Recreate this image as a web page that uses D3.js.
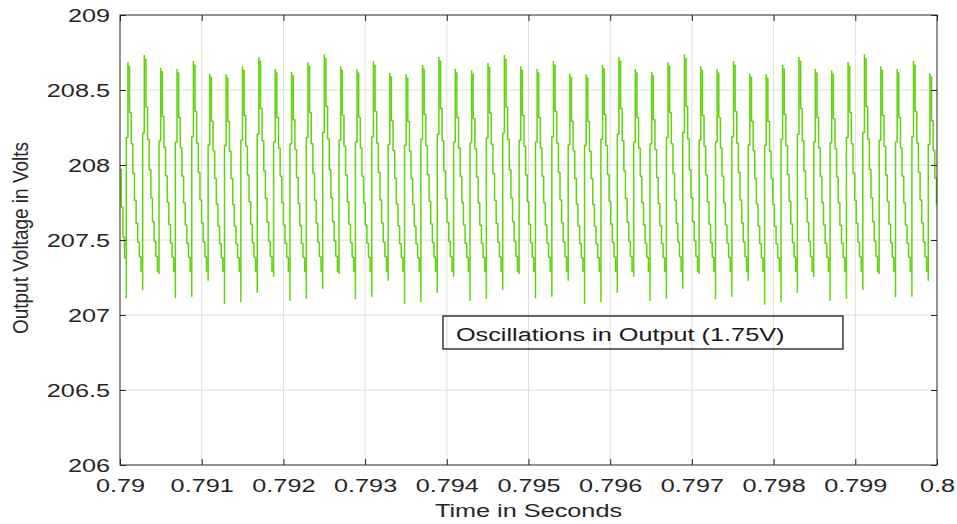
<!DOCTYPE html>
<html>
<head>
<meta charset="utf-8">
<script src="https://cdn.jsdelivr.net/npm/d3@7"></script>
<style>
  body { margin: 0; background: #fff; }
  svg { display: block; }
</style>
</head>
<body>
<div id="chart"></div>
<script>
// tick values and labels
var xTicks = [0.79, 0.791, 0.792, 0.793, 0.794, 0.795, 0.796, 0.797, 0.798, 0.799, 0.8];
var xTickLabels = ["0.79", "0.791", "0.792", "0.793", "0.794", "0.795", "0.796", "0.797", "0.798", "0.799", "0.8"];
var yTicks = [206, 206.5, 207, 207.5, 208, 208.5, 209];
var yTickLabels = ["206", "206.5", "207", "207.5", "208", "208.5", "209"];

// ripple: one peak and one trough per cycle (50 cycles)
var peakVolts = [
  208.685, 208.733, 208.649, 208.640, 208.693, 208.609, 208.605, 208.658, 208.720, 208.640,
  208.622, 208.685, 208.738, 208.658, 208.640, 208.693, 208.613, 208.605, 208.667, 208.720,
  208.640, 208.631, 208.680, 208.733, 208.658, 208.640, 208.693, 208.609, 208.605, 208.667,
  208.720, 208.640, 208.622, 208.685, 208.738, 208.658, 208.640, 208.693, 208.609, 208.605,
  208.667, 208.720, 208.640, 208.631, 208.685, 208.738, 208.658, 208.640, 208.693, 208.613];
var troughVolts = [
  207.111, 207.167, 207.273, 207.111, 207.122, 207.229, 207.073, 207.087, 207.149, 207.255,
  207.095, 207.109, 207.175, 207.273, 207.105, 207.122, 207.229, 207.073, 207.087, 207.149,
  207.255, 207.095, 207.109, 207.167, 207.273, 207.111, 207.122, 207.229, 207.073, 207.087,
  207.149, 207.255, 207.095, 207.109, 207.175, 207.273, 207.105, 207.122, 207.229, 207.069,
  207.087, 207.149, 207.255, 207.095, 207.109, 207.167, 207.273, 207.118, 207.122, 207.229];

// staircase inside one cycle (10 held samples), as a fraction between bottom hold and peak
var stepShape = [0.64, 0.98, 0.76, 0.61, 0.47, 0.34, 0.23, 0.14, 0.07, 0.0];
var bottomHold = 207.29;
// first trough time and ripple period
var firstTrough = 0.790077;
var ripplePeriod = 0.00020033;
// tail of the previous cycle seen at the left edge [time, volts]
var leadIn = [[0.79, 207.97], [0.790015, 207.97], [0.790015, 207.72], [0.790035, 207.72],
              [0.790035, 207.52], [0.790055, 207.52], [0.790055, 207.38]];

var svgWidth = 957;
var svgHeight = 524;
var margin = {top: 15, right: 20, bottom: 59, left: 120};
var width = svgWidth - margin.left - margin.right;
var height = svgHeight - margin.top - margin.bottom;

var axisColor = "#262626";
var fontFamily = "'Liberation Sans', Arial, Helvetica, sans-serif";
var stretch = 1.33;

var svg = d3.select("#chart")
  .append("svg")
  .attr("width", svgWidth)
  .attr("height", svgHeight);

var chartGroup = svg.append("g")
  .attr("transform", `translate(${margin.left}, ${margin.top})`);

var xScale = d3.scaleLinear().domain([0.79, 0.8]).range([0, width]);
var yScale = d3.scaleLinear().domain([206, 209]).range([height, 0]);

// grid
chartGroup.append("g").selectAll("line")
  .data(xTicks.slice(1, -1))
  .enter()
  .append("line")
  .attr("x1", d => xScale(d)).attr("x2", d => xScale(d))
  .attr("y1", 0).attr("y2", height)
  .attr("stroke", "#dedede");

chartGroup.append("g").selectAll("line")
  .data(yTicks.slice(1, -1))
  .enter()
  .append("line")
  .attr("x1", 0).attr("x2", width)
  .attr("y1", d => yScale(d)).attr("y2", d => yScale(d))
  .attr("stroke", "#dedede");

// build the held-sample trace
var points = leadIn.slice();
peakVolts.forEach(function(p, i) {
  var t0 = firstTrough + i * ripplePeriod;
  var dt = ripplePeriod / stepShape.length;
  var levels = stepShape.map(f => bottomHold + f * (p - bottomHold));
  var prev = points[points.length - 1][1];
  points.push([t0, prev]);
  points.push([t0, troughVolts[i]]);
  points.push([t0, levels[0]]);
  points.push([t0 + dt, levels[0]]);
  points.push([t0 + dt, p]);
  points.push([t0 + dt, levels[1]]);
  for (var k = 2; k < levels.length; k++) {
    points.push([t0 + k * dt, levels[k - 1]]);
    points.push([t0 + k * dt, levels[k]]);
  }
});
points.push([0.8005, points[points.length - 1][1]]);

svg.append("defs").append("clipPath")
  .attr("id", "plotClip")
  .append("rect")
  .attr("width", width)
  .attr("height", height);

var line = d3.line()
  .x(d => xScale(d[0]))
  .y(d => yScale(d[1]));

chartGroup.append("path")
  .datum(points)
  .attr("clip-path", "url(#plotClip)")
  .attr("fill", "none")
  .attr("stroke", "#5fd40a")
  .attr("stroke-width", 1.5)
  .attr("stroke-linejoin", "bevel")
  .attr("d", line);

// box
chartGroup.append("rect")
  .attr("width", width)
  .attr("height", height)
  .attr("fill", "none")
  .attr("stroke", axisColor)
  .attr("stroke-width", 1);

// axes, ticks pointing inward on all four sides
var bottomAxis = d3.axisBottom(xScale)
  .tickValues(xTicks)
  .tickFormat((d, i) => xTickLabels[i])
  .tickSizeInner(-6)
  .tickSizeOuter(0)
  .tickPadding(14);

var leftAxis = d3.axisLeft(yScale)
  .tickValues(yTicks)
  .tickFormat((d, i) => yTickLabels[i])
  .tickSizeInner(-6)
  .tickSizeOuter(0)
  .tickPadding(7.5);

var xAxis = chartGroup.append("g")
  .attr("transform", `translate(0, ${height})`)
  .call(bottomAxis);

var yAxis = chartGroup.append("g")
  .call(leftAxis);

chartGroup.append("g")
  .call(d3.axisTop(xScale).tickValues(xTicks).tickFormat("").tickSizeInner(-6).tickSizeOuter(0));

chartGroup.append("g")
  .attr("transform", `translate(${width}, 0)`)
  .call(d3.axisRight(yScale).tickValues(yTicks).tickFormat("").tickSizeInner(-6).tickSizeOuter(0));

chartGroup.selectAll(".domain").remove();
chartGroup.selectAll(".tick line").attr("stroke", axisColor);

[xAxis, yAxis].forEach(function(a) {
  a.attr("font-size", 19)
    .attr("font-family", fontFamily)
    .selectAll("text")
    .attr("fill", axisColor)
    .attr("transform", `scale(${stretch}, 1)`);
});
yAxis.selectAll("text").attr("dy", "0.33em");

// axis titles
svg.append("text")
  .attr("transform", `translate(${margin.left + width / 2}, 517) scale(${stretch}, 1)`)
  .attr("text-anchor", "middle")
  .attr("font-family", fontFamily)
  .attr("font-size", 19)
  .attr("fill", axisColor)
  .text("Time in Seconds");

svg.append("text")
  .attr("transform", `translate(28, ${margin.top + height / 2 - 2}) rotate(-90) scale(1, 1.2)`)
  .attr("text-anchor", "middle")
  .attr("font-family", fontFamily)
  .attr("font-size", 19)
  .attr("fill", axisColor)
  .text("Output Voltage in Volts");

// annotation box
var note = chartGroup.append("g")
  .attr("transform", `translate(${xScale(0.793953)}, ${yScale(206.9933)})`);

note.append("rect")
  .attr("width", 400)
  .attr("height", 33)
  .attr("fill", "none")
  .attr("stroke", "#1a1a1a")
  .attr("stroke-width", 1.3);

note.append("text")
  .attr("transform", `translate(13, 24.5) scale(${stretch}, 1)`)
  .attr("font-family", fontFamily)
  .attr("font-size", 19)
  .attr("fill", "#1a1a1a")
  .text("Oscillations in Output (1.75V)");
</script>
</body>
</html>
